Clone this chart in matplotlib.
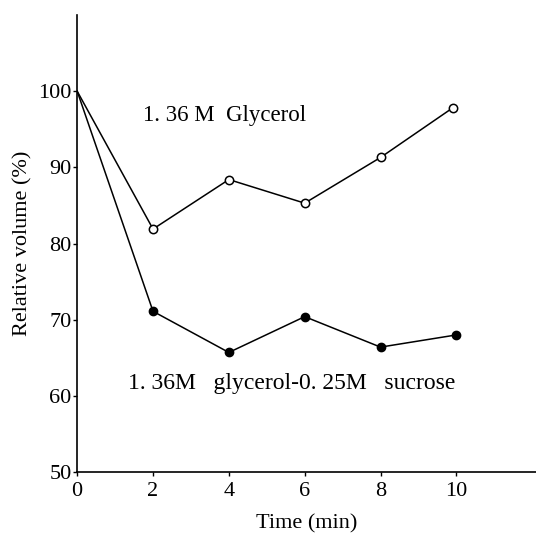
import matplotlib
matplotlib.use("Agg")
import matplotlib.pyplot as plt

# Data
time_glycerol = [0, 2, 4, 6, 8, 9.9]
vol_glycerol = [100, 81.9, 88.4, 85.3, 91.3, 97.8]

time_sucrose = [0, 2, 4, 6, 8, 10]
vol_sucrose = [100, 71.1, 65.7, 70.4, 66.4, 68.0]

x_ticks = [0, 2, 4, 6, 8, 10]
y_ticks = [50, 60, 70, 80, 90, 100]

plt.rcParams["font.family"] = ["Liberation Serif", "DejaVu Serif"]

fig = plt.figure(figsize=(5.36, 5.37), dpi=100)
ax = fig.add_axes([0.144, 0.121, 0.856, 0.851])

# the shared starting point at t=0 carries no marker in the original
ax.plot(time_glycerol, vol_glycerol, color="black", lw=1.1,
        marker="o", markersize=6, markerfacecolor="white",
        markeredgecolor="black", markeredgewidth=1.1, markevery=slice(1, None))
ax.plot(time_sucrose, vol_sucrose, color="black", lw=1.1,
        marker="o", markersize=6, markerfacecolor="black",
        markeredgecolor="black", markevery=slice(1, None))

ax.text(1.74, 96.8, "1. 36 M  Glycerol", fontsize=16.5, va="center", ha="left")
ax.text(1.34, 61.6, "1. 36M   glycerol-0. 25M   sucrose", fontsize=17,
        va="center", ha="left")

ax.set_xlim(0, 12.1)
ax.set_ylim(50, 110)
ax.set_xticks(x_ticks)
ax.set_yticks(y_ticks)
ax.tick_params(labelsize=16, length=3, width=1, direction="out")
ax.tick_params(axis="x", pad=4)
ax.tick_params(axis="y", pad=1)

for side in ["top", "right"]:
    ax.spines[side].set_visible(False)
for side in ["left", "bottom"]:
    ax.spines[side].set_linewidth(1.2)

ax.set_xlabel("Time (min)", fontsize=16, labelpad=10)
ax.set_ylabel("Relative volume (%)", fontsize=16, labelpad=4)

fig.savefig("out.png", dpi=100)
